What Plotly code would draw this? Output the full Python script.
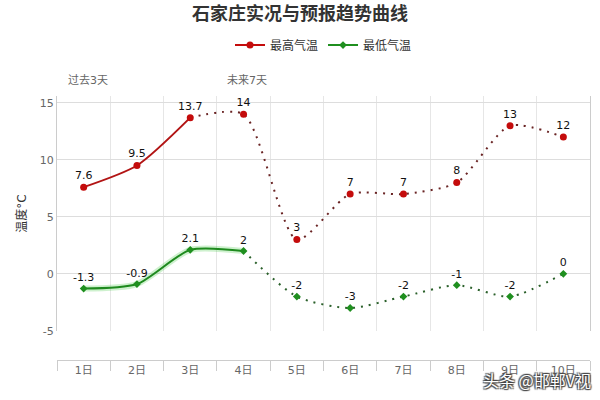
import plotly.graph_objects as go

days = ["1日", "2日", "3日", "4日", "5日", "6日", "7日", "8日", "9日", "10日"]
high = [7.6, 9.5, 13.7, 14, 3, 7, 7, 8, 13, 12]
low = [-1.3, -0.9, 2.1, 2, -2, -3, -2, -1, -2, 0]
high_solid_n = 3   # observed segment for high (1日-3日)
low_solid_n = 4    # observed segment for low (1日-4日)
ytick_vals = [-5, 0, 5, 10, 15]
ytick_text = ["-5", "0", "5", "10", "15"]

RED_LINE = "#b21414"
RED_MK = "#c40c0c"
RED_DOT = "#6a2424"
GREEN_LINE = "#1e8a1e"
GREEN_MK = "#1f8f1f"
GREEN_DOT = "#2a602a"
FONT = "DejaVu Sans, Noto Sans CJK SC, sans-serif"
SM = 0.7

def lab(v):
    return f"{v:g}"

fig = go.Figure()

# high: solid observed part
fig.add_trace(go.Scatter(x=days[:high_solid_n], y=high[:high_solid_n], mode="lines",
                         line=dict(color=RED_LINE, width=2, shape="spline", smoothing=SM),
                         showlegend=False, hoverinfo="skip"))
# high: dotted forecast part
fig.add_trace(go.Scatter(x=days[high_solid_n - 1:], y=high[high_solid_n - 1:], mode="lines",
                         line=dict(color=RED_DOT, width=2, shape="spline", smoothing=SM, dash="2px,6px"),
                         showlegend=False, hoverinfo="skip"))
# low: glow + solid observed part
fig.add_trace(go.Scatter(x=days[:low_solid_n], y=low[:low_solid_n], mode="lines",
                         line=dict(color="rgba(60,200,60,0.25)", width=6, shape="spline", smoothing=SM),
                         showlegend=False, hoverinfo="skip"))
fig.add_trace(go.Scatter(x=days[:low_solid_n], y=low[:low_solid_n], mode="lines",
                         line=dict(color=GREEN_LINE, width=2, shape="spline", smoothing=SM),
                         showlegend=False, hoverinfo="skip"))
# low: dotted forecast part
fig.add_trace(go.Scatter(x=days[low_solid_n - 1:], y=low[low_solid_n - 1:], mode="lines",
                         line=dict(color=GREEN_DOT, width=2, shape="spline", smoothing=SM, dash="2px,6px"),
                         showlegend=False, hoverinfo="skip"))

# markers + labels
fig.add_trace(go.Scatter(x=days, y=high, mode="markers+text", showlegend=False,
                         marker=dict(color=RED_MK, size=7, symbol="circle"),
                         text=[lab(v) for v in high], textposition="top center",
                         textfont=dict(color="#111", size=11, family=FONT)))
fig.add_trace(go.Scatter(x=days, y=low, mode="markers+text", showlegend=False,
                         marker=dict(color=GREEN_MK, size=6, symbol="diamond"),
                         text=[lab(v) for v in low], textposition="top center",
                         textfont=dict(color="#111", size=11, family=FONT)))
# legend entries
fig.add_trace(go.Scatter(x=[None], y=[None], mode="lines+markers", name="最高气温",
                         line=dict(color=RED_MK, width=2), marker=dict(color=RED_MK, size=7)))
fig.add_trace(go.Scatter(x=[None], y=[None], mode="lines+markers", name="最低气温",
                         line=dict(color=GREEN_MK, width=2), marker=dict(color=GREEN_MK, size=6, symbol="diamond")))

fig.update_layout(
    width=600, height=400,
    margin=dict(l=57, r=10, t=96, b=40),
    paper_bgcolor="white", plot_bgcolor="white",
    font=dict(family=FONT, color="#333"),
    title=dict(text="<b>石家庄实况与预报趋势曲线</b>", x=0.5, xanchor="center",
               y=1 - 14 / 400, yanchor="middle",
               font=dict(size=18, color="#333", family=FONT)),
    legend=dict(orientation="h", x=0.5, xanchor="center", y=1.193, yanchor="middle",
                font=dict(size=12, color="#333"), itemwidth=30, bgcolor="rgba(0,0,0,0)"),
    showlegend=True,
    xaxis=dict(type="category", categoryorder="array", categoryarray=days,
               anchor="free", position=0, tickson="boundaries",
               showgrid=True, gridcolor="#e6e6e6", gridwidth=1,
               showline=True, linecolor="#cccccc", linewidth=1,
               ticks="outside", ticklen=10, tickcolor="#cccccc",
               tickfont=dict(size=11, color="#666"), range=[-0.5, 9.5]),
    yaxis=dict(domain=[(360 - 331) / 264, 1], range=[-5.02, 15.6],
               tickvals=ytick_vals, ticktext=ytick_text,
               showgrid=True, gridcolor="#dddddd", zeroline=False,
               showline=True, linecolor="#cccccc", mirror=True,
               tickfont=dict(size=11, color="#666"),
               title=dict(text="温度°C", font=dict(size=12, color="#333"), standoff=10)),
    annotations=[
        dict(text="过去3天", xref="paper", yref="paper", x=(88 - 57) / 533, y=(360 - 80) / 264,
             xanchor="center", yanchor="middle",
             showarrow=False, font=dict(size=11, color="#666")),
        dict(text="未来7天", xref="paper", yref="paper", x=(247 - 57) / 533, y=(360 - 80) / 264,
             xanchor="center", yanchor="middle",
             showarrow=False, font=dict(size=11, color="#666")),
        dict(text="头条 @邯郸V视", xref="paper", yref="paper", x=(537 - 57) / 533, y=(360 - 380) / 264,
             xanchor="center", yanchor="middle",
             showarrow=False,
             font=dict(size=16, color="white", family="Noto Sans CJK SC",
                       shadow="1px 1px 1px #444, -1px -1px 1px #444, 1px -1px 1px #444, -1px 1px 1px #444")),
    ],
)

fig.write_html("out.html")
